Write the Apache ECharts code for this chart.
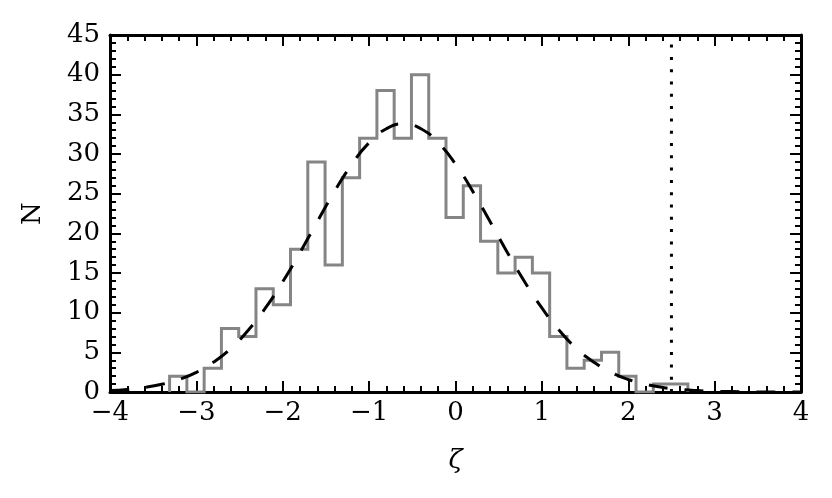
<!DOCTYPE html>
<html>
<head>
<meta charset="utf-8">
<script src="https://cdn.jsdelivr.net/npm/echarts@6/dist/echarts.min.js"></script>
<style>
html,body{margin:0;padding:0;background:#fff;}
#chart{width:832px;height:498px;}
</style>
</head>
<body>
<div id="chart"></div>
<script>
// Histogram: bin start, bin width, counts per bin
const binStart = -3.31;
const binWidth = 0.2;
const counts = [2, 0, 3, 8, 7, 13, 11, 18, 29, 16, 27, 32, 38, 32, 40, 32, 22, 26, 19, 15, 17, 15, 7, 3, 4, 5, 2, 0, 1, 1];

// Dashed fitted curve
const curveX = [-4.0, -3.8, -3.6, -3.4, -3.2, -3.0, -2.8, -2.6, -2.4, -2.2, -2.0, -1.8, -1.6, -1.4, -1.2, -1.0, -0.8, -0.6, -0.4, -0.2, 0.0, 0.2, 0.4, 0.6, 0.8, 1.0, 1.2, 1.4, 1.6, 1.8, 2.0, 2.2, 2.4, 2.6, 2.8, 3.0, 3.2, 3.4, 3.6, 3.8, 4.0];
const curveY = [0.18, 0.33, 0.57, 0.97, 1.58, 2.48, 3.77, 5.51, 7.78, 10.59, 13.90, 17.59, 21.48, 25.29, 28.71, 31.43, 33.19, 33.8, 33.19, 31.43, 28.71, 25.29, 21.48, 17.59, 13.90, 10.59, 7.78, 5.51, 3.77, 2.48, 1.58, 0.97, 0.57, 0.33, 0.18, 0.09, 0.05, 0.02, 0.01, 0.0, 0.0];

// Vertical dotted threshold
const thresholdX = 2.5;

// Axis ranges / ticks
const xMin = -4, xMax = 4, xStep = 1;
const yMin = 0, yMax = 45, yStep = 5;

const histData = [];
histData.push([binStart, 0]);
for (let k = 0; k < counts.length; k++) {
  histData.push([+(binStart + k * binWidth).toFixed(4), counts[k]]);
}
const lastEdge = +(binStart + counts.length * binWidth).toFixed(4);
histData.push([lastEdge, counts[counts.length - 1]]);
histData.push([lastEdge, 0]);

const curveData = curveX.map((x, i) => [x, curveY[i]]);

const FONT = 'DejaVu Serif';
const FS = 26;
const minus = v => String(v).replace('-', '\u2212');

const tickCommon = {
  axisLine: { show: true, onZero: false, lineStyle: { color: '#000', width: 3 } },
  axisTick: { show: true, inside: true, length: 11, lineStyle: { color: '#000', width: 2 } },
  minorTick: { show: true, splitNumber: 5, length: 6, lineStyle: { color: '#000', width: 2 } },
  splitLine: { show: false },
  minorSplitLine: { show: false }
};

const chart = echarts.init(document.getElementById('chart'), null, { renderer: 'canvas' });
chart.setOption({
  animation: false,
  backgroundColor: '#fff',
  grid: { left: 110, right: 31, top: 35, bottom: 106 },
  xAxis: [
    Object.assign({
      type: 'value', min: xMin, max: xMax, interval: xStep, position: 'bottom',
      name: '\u03B6', nameLocation: 'middle', nameGap: 56,
      nameTextStyle: { fontFamily: FONT, fontSize: FS, fontStyle: 'italic', color: '#000' },
      axisLabel: { show: true, margin: 8, fontFamily: FONT, fontSize: FS, color: '#000', formatter: minus }
    }, tickCommon),
    Object.assign({
      type: 'value', min: xMin, max: xMax, interval: xStep, position: 'top',
      axisLabel: { show: false }
    }, tickCommon)
  ],
  yAxis: [
    Object.assign({
      type: 'value', min: yMin, max: yMax, interval: yStep, position: 'left',
      name: 'N', nameLocation: 'middle', nameGap: 64,
      nameTextStyle: { fontFamily: FONT, fontSize: FS, color: '#000' },
      axisLabel: { show: true, margin: 10, fontFamily: FONT, fontSize: FS, color: '#000' }
    }, tickCommon),
    Object.assign({
      type: 'value', min: yMin, max: yMax, interval: yStep, position: 'right',
      axisLabel: { show: false }
    }, tickCommon)
  ],
  series: [
    {
      type: 'line', step: 'end', data: histData, symbol: 'none',
      lineStyle: { color: '#858585', width: 3, join: 'miter' }, z: 2
    },
    {
      type: 'line', smooth: true, data: curveData, symbol: 'none',
      lineStyle: { color: '#000', width: 3, type: [19, 17] }, z: 3
    },
    {
      type: 'line', data: [[thresholdX, yMin], [thresholdX, yMax]], symbol: 'none',
      lineStyle: { color: '#000', width: 3, type: [3, 9.3] }, z: 3
    }
  ]
});
</script>
</body>
</html>
